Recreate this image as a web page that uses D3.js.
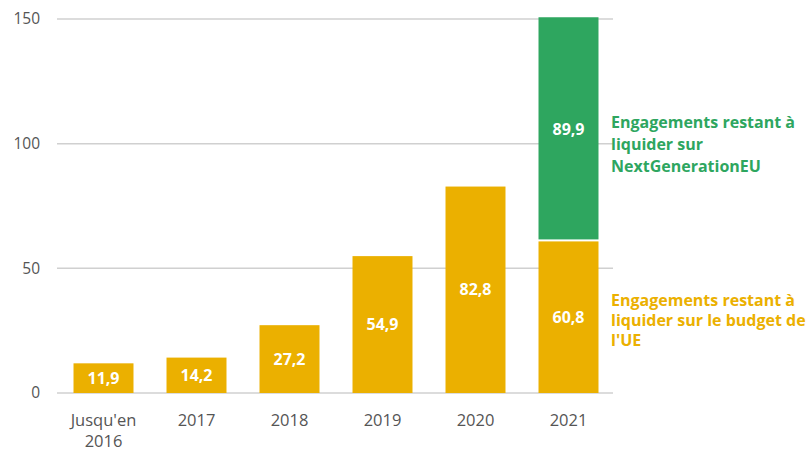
<!DOCTYPE html>
<html>
<head>
<meta charset="utf-8">
<script src="https://cdn.jsdelivr.net/npm/d3@7"></script>
<style>
  body { margin: 0; background: #fff; }
  svg { font-family: "Open Sans", "Noto Sans", sans-serif; }
</style>
</head>
<body>
<div id="chart"></div>
<script>
const categories = ["Jusqu'en\n2016", "2017", "2018", "2019", "2020", "2021"];
const budgetValues = [11.9, 14.2, 27.2, 54.9, 82.8, 60.8];
const ngeuValues = [0, 0, 0, 0, 0, 89.9];
const yTicks = [0, 50, 100, 150];
const ngeuLabel = ["Engagements restant à", "liquider sur", "NextGenerationEU"];
const budgetLabel = ["Engagements restant à", "liquider sur le budget de", "l'UE"];

const width = 806, height = 451;
const yellow = "#ebb000", green = "#2ea65f";

const fmt = v => d3.format(".1f")(v).replace(".", ",");

const svg = d3.select("#chart").append("svg")
  .attr("width", width)
  .attr("height", height);

const x = d3.scaleBand()
  .domain(categories)
  .range([57, 615])
  .paddingInner(0.355)
  .paddingOuter(0.1775);

const y = d3.scaleLinear()
  .domain([0, 150])
  .range([393, 19]);

// gridlines
svg.append("g")
  .selectAll("line")
  .data(yTicks)
  .join("line")
  .attr("x1", 57)
  .attr("x2", 613)
  .attr("y1", d => y(d))
  .attr("y2", d => y(d))
  .attr("stroke", "#d0d0d0")
  .attr("stroke-width", 1.5);

// y tick labels
svg.append("g")
  .selectAll("text")
  .data(yTicks)
  .join("text")
  .attr("x", 40)
  .attr("y", d => y(d))
  .attr("dy", "0.35em")
  .attr("text-anchor", "end")
  .attr("fill", "#555")
  .style("font-size", "15.5px")
  .text(d => d);

const rows = categories.map((c, i) => ({ cat: c, budget: budgetValues[i], ngeu: ngeuValues[i] }));

// budget bars
svg.append("g")
  .selectAll("rect")
  .data(rows)
  .join("rect")
  .attr("x", d => x(d.cat))
  .attr("width", x.bandwidth())
  .attr("y", d => y(d.budget))
  .attr("height", d => y(0) - y(d.budget))
  .attr("fill", yellow);

// NGEU bars, stacked on top
svg.append("g")
  .selectAll("rect")
  .data(rows.filter(d => d.ngeu > 0))
  .join("rect")
  .attr("x", d => x(d.cat))
  .attr("width", x.bandwidth())
  .attr("y", d => y(d.budget + d.ngeu))
  .attr("height", d => y(d.budget) - y(d.budget + d.ngeu) - 2)
  .attr("fill", green);

// value labels
const labelStyle = sel => sel
  .attr("text-anchor", "middle")
  .attr("dy", "0.35em")
  .attr("fill", "#fff")
  .style("font-size", "16px")
  .style("font-weight", "bold");

svg.append("g")
  .selectAll("text")
  .data(rows)
  .join("text")
  .attr("x", d => x(d.cat) + x.bandwidth() / 2)
  .attr("y", d => (y(d.budget) + y(0)) / 2)
  .call(labelStyle)
  .text(d => fmt(d.budget));

svg.append("g")
  .selectAll("text")
  .data(rows.filter(d => d.ngeu > 0))
  .join("text")
  .attr("x", d => x(d.cat) + x.bandwidth() / 2)
  .attr("y", d => (y(d.budget + d.ngeu) + y(d.budget)) / 2)
  .call(labelStyle)
  .text(d => fmt(d.ngeu));

// x labels
const xl = svg.append("g")
  .selectAll("text")
  .data(categories)
  .join("text")
  .attr("x", d => x(d) + x.bandwidth() / 2)
  .attr("y", 426)
  .attr("text-anchor", "middle")
  .attr("fill", "#555")
  .style("font-size", "16.5px");

xl.selectAll("tspan")
  .data(d => d.split("\n").map(t => ({ t, x: x(d) + x.bandwidth() / 2 })))
  .join("tspan")
  .attr("x", d => d.x)
  .attr("dy", (d, i) => i === 0 ? 0 : 21)
  .text(d => d.t);

// series annotations
const annot = (lines, color, yStart, gap) => {
  svg.append("g")
    .selectAll("text")
    .data(lines)
    .join("text")
    .attr("x", 611)
    .attr("y", (d, i) => yStart + i * gap)
    .attr("dy", "0.35em")
    .attr("fill", color)
    .style("font-size", "16px")
    .style("font-weight", "bold")
    .text(d => d);
};

annot(ngeuLabel, green, 122, 22);
annot(budgetLabel, yellow, 300, 20);
</script>
</body>
</html>
